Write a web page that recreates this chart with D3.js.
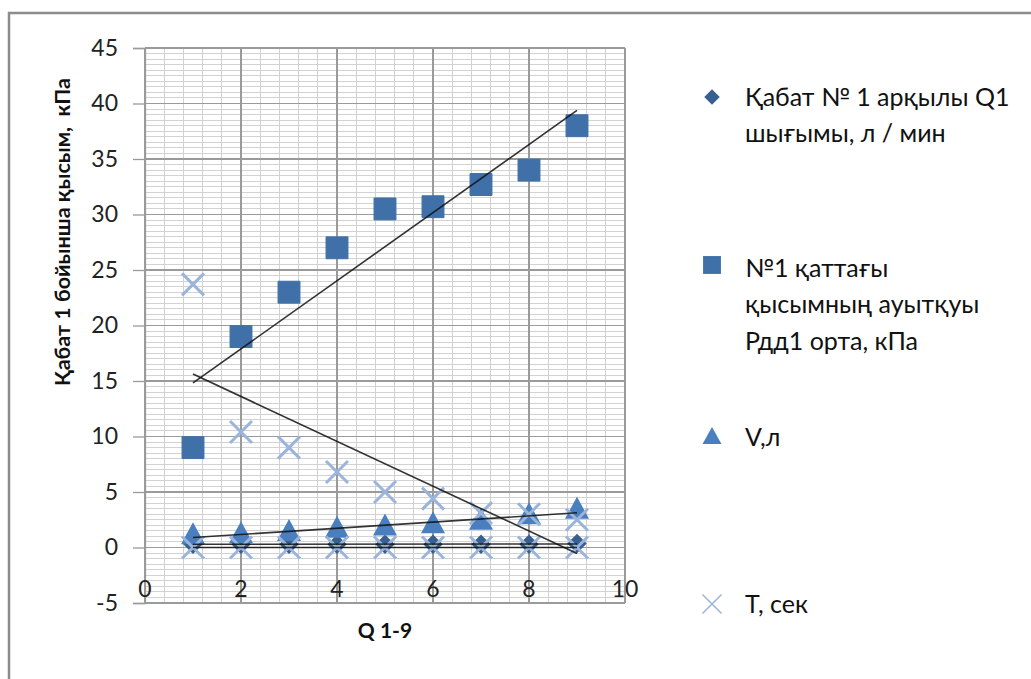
<!DOCTYPE html>
<html><head><meta charset="utf-8">
<script src="https://cdn.jsdelivr.net/npm/d3@7"></script>
<style>body{margin:0;background:#fff}svg{display:block}</style>
</head><body>
<svg id="c" width="1031" height="679"></svg>
<script>
const xs = [1,2,3,4,5,6,7,8,9];
const q1Flow = [0.3,0.3,0.3,0.3,0.3,0.3,0.3,0.3,0.35];
const pressure = [9,19,23,27,30.5,30.7,32.7,34,38];
const volume = [1.1,1.2,1.4,1.7,1.9,2.1,2.4,2.9,3.4];
const timeSec = [23.7,10.4,9,6.8,5,4.4,3.1,3,2.5];
const timeZero = [0,0,0,0,0,0,0,0,0];
const yTicks = [-5,0,5,10,15,20,25,30,35,40,45];
const xTicks = [0,2,4,6,8,10];
const legendLabels = [
  ["Қабат № 1 арқылы Q1","шығымы, л / мин"],
  ["№1 қаттағы","қысымның ауытқуы","Рдд1 орта, кПа"],
  ["V,л"],
  ["T, сек"]
];
const yTitle = "Қабат 1 бойынша қысым,  кПа";
const xTitle = "Q 1-9";

const svg = d3.select("#c");
const x = d3.scaleLinear().domain([0,10]).range([145,625]);
const y = d3.scaleLinear().domain([-5,45]).range([603,48]);
const FONT = "Lato, 'Open Sans', sans-serif";

// outer frame
svg.append("rect").attr("x",9).attr("y",13).attr("width",1200).attr("height",900)
  .attr("fill","none").attr("stroke","#8c8c8c").attr("stroke-width",2.5);

// minor grid
const g = svg.append("g");
g.selectAll(".mv").data(d3.range(0,10.001,0.4)).join("line")
  .attr("x1",d=>x(d)).attr("x2",d=>x(d)).attr("y1",y(45)).attr("y2",y(-5))
  .attr("stroke","#d2d2d2").attr("stroke-width",1).attr("shape-rendering","crispEdges");
g.selectAll(".mh").data(d3.range(-5,45.001,0.5)).join("line")
  .attr("x1",x(0)).attr("x2",x(10)).attr("y1",d=>y(d)).attr("y2",d=>y(d))
  .attr("stroke","#d2d2d2").attr("stroke-width",1).attr("shape-rendering","crispEdges");
// major grid
g.selectAll(".Mv").data(xTicks).join("line")
  .attr("x1",d=>x(d)).attr("x2",d=>x(d)).attr("y1",y(45)).attr("y2",y(-5))
  .attr("stroke","#9a9a9a").attr("stroke-width",1.3).attr("shape-rendering","crispEdges");
g.selectAll(".Mh").data(yTicks).join("line")
  .attr("x1",x(0)).attr("x2",x(10)).attr("y1",d=>y(d)).attr("y2",d=>y(d))
  .attr("stroke","#9a9a9a").attr("stroke-width",1.3).attr("shape-rendering","crispEdges");

// y axis
const yAxis = svg.append("g").attr("transform",`translate(${x(0)},0)`)
  .call(d3.axisLeft(y).tickValues(yTicks).tickFormat(d=>String(d)).tickSize(12).tickPadding(15));
yAxis.select(".domain").attr("stroke","#9a9a9a").attr("stroke-width",1.3);
yAxis.selectAll(".tick line").attr("stroke","#9a9a9a").attr("stroke-width",1.3);
yAxis.selectAll("text").attr("font-family",FONT).attr("font-size",23).attr("fill","#222");

// x tick labels
svg.append("g").selectAll("text").data(xTicks).join("text")
  .attr("x",d=>x(d)).attr("y",589).attr("dy","0.35em").attr("text-anchor","middle")
  .attr("font-family",FONT).attr("font-size",23).attr("fill","#222").text(d=>String(d));

// titles
svg.append("text").attr("transform",`translate(70,${232}) rotate(-90)`)
  .attr("text-anchor","middle").attr("font-family",FONT).attr("font-weight","bold")
  .attr("font-size",21.5).attr("fill","#111").style("white-space","pre").text(yTitle);
svg.append("text").attr("x",385).attr("y",631).attr("dy","0.35em").attr("text-anchor","middle")
  .attr("font-family",FONT).attr("font-weight","bold").attr("font-size",21).attr("fill","#111").text(xTitle);

const cDiamond = "#375f90", cSquare = "#4070a8", cTri = "#4a7fbf", cX = "#9ab4dc";
const sym = (type,size)=>d3.symbol().type(type).size(size)();
const xPath = s => `M${-s},${-s}L${s},${s}M${-s},${s}L${s},${-s}`;

const marks = svg.append("g");
// diamonds
marks.selectAll(".dm").data(xs).join("path")
  .attr("transform",(d,i)=>`translate(${x(d)},${y(q1Flow[i])}) rotate(45)`)
  .attr("d",sym(d3.symbolSquare,190)).attr("fill",cDiamond);
// squares
marks.selectAll(".sq").data(xs).join("path")
  .attr("transform",(d,i)=>`translate(${x(d)},${y(pressure[i])})`)
  .attr("d",sym(d3.symbolSquare,480)).attr("fill",cSquare).attr("stroke",cSquare).attr("stroke-linejoin","round");
// triangles
const triPath = "M0,-13L12,9L-12,9Z";
marks.selectAll(".tr").data(xs).join("path")
  .attr("transform",(d,i)=>`translate(${x(d)},${y(volume[i])})`)
  .attr("d",triPath).attr("fill",cTri);
// X markers (zero series and T)
marks.selectAll(".xz").data(xs).join("path")
  .attr("transform",(d,i)=>`translate(${x(d)},${y(timeZero[i])})`)
  .attr("d",xPath(11)).attr("stroke",cX).attr("stroke-width",3).attr("fill","none");
marks.selectAll(".xt").data(xs).join("path")
  .attr("transform",(d,i)=>`translate(${x(d)},${y(timeSec[i])})`)
  .attr("d",xPath(11)).attr("stroke",cX).attr("stroke-width",3).attr("fill","none");

// linear trendlines
function fit(vals){
  const n = xs.length, mx = d3.mean(xs), my = d3.mean(vals);
  let sxy=0,sxx=0; xs.forEach((xv,i)=>{sxy+=(xv-mx)*(vals[i]-my); sxx+=(xv-mx)**2;});
  const b = sxy/sxx, a = my-b*mx;
  return [[xs[0],a+b*xs[0]],[xs[n-1],a+b*xs[n-1]]];
}
const line = d3.line().x(d=>x(d[0])).y(d=>y(d[1]));
[pressure,timeSec,volume,q1Flow,timeZero].forEach(v=>{
  svg.append("path").attr("d",line(fit(v))).attr("stroke","#111").attr("stroke-width",1.6)
    .attr("fill","none").attr("opacity",0.85);
});

// legend
const lx = 712, tx = 745;
const lg = svg.append("g");
lg.append("path").attr("transform",`translate(${lx},97) rotate(45)`)
  .attr("d",sym(d3.symbolSquare,120)).attr("fill",cDiamond);
lg.append("path").attr("transform",`translate(${lx},265)`)
  .attr("d",sym(d3.symbolSquare,320)).attr("fill",cSquare);
lg.append("path").attr("transform",`translate(${lx},437)`)
  .attr("d","M0,-10L9.5,7L-9.5,7Z").attr("fill",cTri);
lg.append("path").attr("transform",`translate(${lx},604)`)
  .attr("d",xPath(9.5)).attr("stroke",cX).attr("stroke-width",1.5).attr("fill","none");
const lineStarts = [97,268,437,604];
legendLabels.forEach((lines,k)=>{
  lines.forEach((t,j)=>{
    lg.append("text").attr("x",tx).attr("y",lineStarts[k]+j*36.5).attr("dy","0.35em")
      .attr("font-family",FONT).attr("font-size",25).attr("fill","#111").text(t);
  });
});
</script>
</body></html>
